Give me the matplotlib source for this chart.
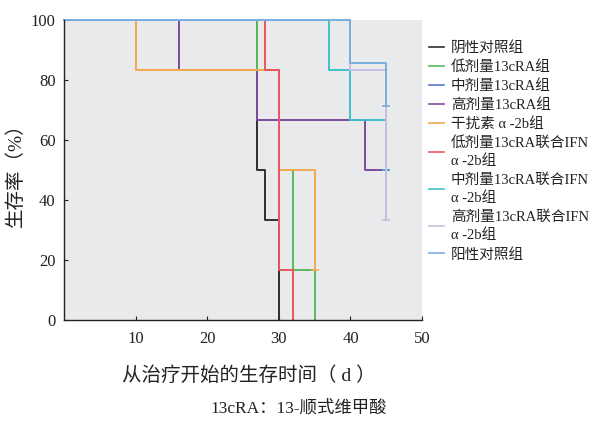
import matplotlib
matplotlib.use("Agg")
import matplotlib.pyplot as plt

plt.rcParams['font.family'] = ['Liberation Serif', 'Noto Sans CJK SC', 'DejaVu Sans']

# Kaplan-Meier survival steps (day, survival %)
groups = ['阴性对照组', '低剂量13cRA组', '中剂量13cRA组', '高剂量13cRA组',
          '干扰素 α -2b组', '低剂量13cRA联合IFN\nα -2b组',
          '中剂量13cRA联合IFN\nα -2b组', '高剂量13cRA联合IFN\nα -2b组', '阳性对照组']

neg_t = [0, 27, 28, 30]
neg_s = [100, 50, 33.3, 0]
low_t = [0, 27, 30, 32, 35]
low_s = [100, 83.3, 50, 16.7, 0]
mid_t = [0, 40]
mid_s = [100, 100]
high_t = [0, 16, 27, 42, 45]
high_s = [100, 83.3, 66.7, 50, 50]
ifn_t = [0, 10, 30, 35]
ifn_s = [100, 83.3, 50, 16.7]
lowc_t = [0, 28, 30, 32]
lowc_s = [100, 83.3, 16.7, 0]
midc_t = [0, 37, 40, 45]
midc_s = [100, 83.3, 66.7, 50]
highc_t = [0, 40, 45]
highc_s = [100, 83.3, 33.3]
pos_t = [0, 40, 45]
pos_s = [100, 85.7, 71.4]

times = [neg_t, low_t, mid_t, high_t, ifn_t, lowc_t, midc_t, highc_t, pos_t]
survs = [neg_s, low_s, mid_s, high_s, ifn_s, lowc_s, midc_s, highc_s, pos_s]
censored = [False, False, False, True, True, False, True, True, True]

colors = ['#2f2f2f', '#5cb85c', '#5a78d0', '#7d4a9e', '#f5a94e',
          '#e8565c', '#3fbfc8', '#c9bde2', '#79aee0']

fig = plt.figure(figsize=(5.92, 4.26), dpi=100)
ax = fig.add_axes([0.108, 0.249, 0.605, 0.704])
ax.set_facecolor('#e9eaec')

for t, s, c, lab, cen in zip(times, survs, colors, groups, censored):
    ax.step(t, s, where='post', color=c, lw=1.4, label=lab, clip_on=False)
    if cen:
        ax.plot(t[-1], s[-1], marker='_', ms=6, mew=1.2, color=c, clip_on=False)

ax.set_xlim(0, 50)
ax.set_ylim(0, 100)
ax.set_xticks([10, 20, 30, 40, 50])
ax.set_yticks([0, 20, 40, 60, 80, 100])
ax.tick_params(axis='both', direction='in', labelsize=12, length=3, width=0.8,
               colors='#222222')
ax.tick_params(axis='x', pad=8)
ax.tick_params(axis='y', pad=6)
for side in ('top', 'right'):
    ax.spines[side].set_visible(False)
for side in ('left', 'bottom'):
    ax.spines[side].set_color('#222222')
    ax.spines[side].set_linewidth(1.0)

ax.set_xlabel('从治疗开始的生存时间（ d ）', fontsize=14, color='#222222')
ax.xaxis.set_label_coords(0.515, -0.155)
ax.set_ylabel('生存率（%）', fontsize=14, labelpad=4, color='#222222')

leg = fig.legend(loc='upper left', bbox_to_anchor=(0.715, 0.917), frameon=False,
                 fontsize=10.5, handlelength=1.0, handletextpad=0.5,
                 labelspacing=0.36, borderaxespad=0)
for txt in leg.get_texts():
    txt.set_color('#222222')
    txt.set_linespacing(1.42)
for h in leg.get_lines():
    h.set_linewidth(1.2)

fig.text(0.505, 0.042, '13cRA：13-顺式维甲酸', ha='center', va='center',
         fontsize=12.5, color='#222222')

fig.savefig('out.png', dpi=100)
